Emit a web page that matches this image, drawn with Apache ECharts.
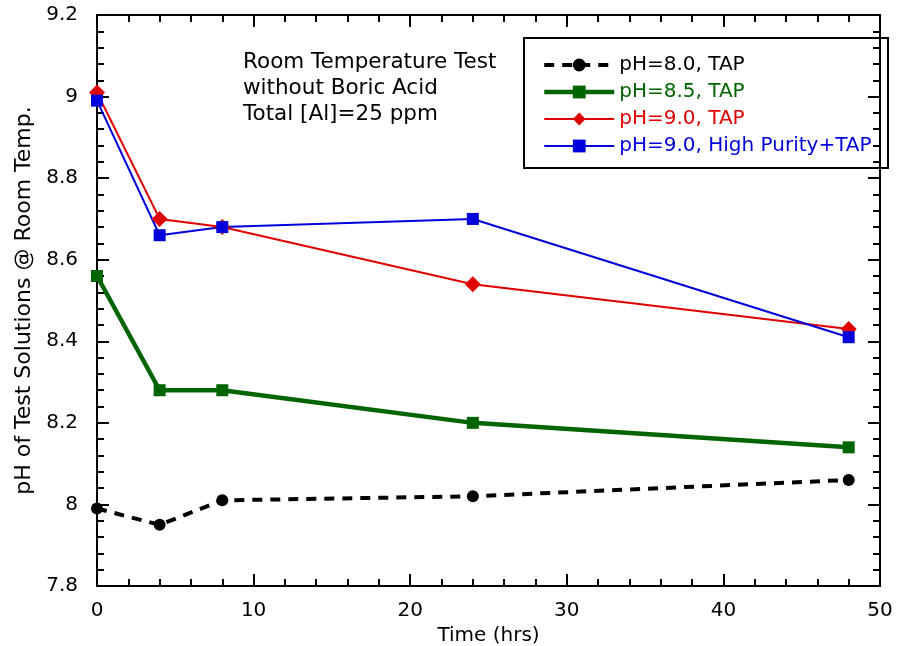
<!DOCTYPE html>
<html><head><meta charset="utf-8">
<script src="https://cdn.jsdelivr.net/npm/echarts@6/dist/echarts.min.js"></script>
<style>html,body{margin:0;padding:0;background:#fff}#c{width:897px;height:646px}</style>
</head><body><div id="c"></div>
<script>
var times = [0, 4, 8, 24, 48];
var ph80 = [7.99, 7.95, 8.01, 8.02, 8.06];
var ph85 = [8.56, 8.28, 8.28, 8.20, 8.14];
var ph90 = [9.01, 8.70, 8.68, 8.54, 8.43];
var ph90hp = [8.99, 8.66, 8.68, 8.70, 8.41];
var names = ['pH=8.0, TAP', 'pH=8.5, TAP', 'pH=9.0, TAP', 'pH=9.0, High Purity+TAP'];
var colors = ['#000000', '#006400', '#e00000', '#0000dd'];
var lineWidths = [4, 4.5, 2, 2];
var noteLines = ['Room Temperature Test', 'without Boric Acid', 'Total [Al]=25 ppm'];
var xName = 'Time (hrs)';
var yName = 'pH of Test Solutions @ Room Temp.';

function pairs(ys){ return times.map(function(t,i){ return [t, ys[i]]; }); }
var FONT = '"DejaVu Sans", sans-serif';
var FS = 20;

function xAx(pos, show){
  return {type:'value', position:pos, min:0, max:50, interval:10,
    name: show ? xName : '', nameLocation:'middle', nameGap:30,
    nameTextStyle:{fontFamily:FONT, fontSize:FS, color:'#000'},
    axisLine:{show:true, onZero:false, lineStyle:{color:'#000', width:2}},
    axisTick:{show:true, inside:true, length:12, lineStyle:{color:'#000', width:2}},
    minorTick:{show:true, splitNumber:5, length:7, lineStyle:{color:'#000', width:2}},
    axisLabel:{show:show, margin:15, fontFamily:FONT, fontSize:FS, color:'#000'},
    splitLine:{show:false}};
}
function yAx(pos, show){
  return {type:'value', position:pos, min:7.8, max:9.2, interval:0.2,
    name: show ? yName : '', nameLocation:'middle', nameGap:60,
    nameTextStyle:{fontFamily:FONT, fontSize:22, color:'#000'},
    axisLine:{show:true, onZero:false, lineStyle:{color:'#000', width:2}},
    axisTick:{show:true, inside:true, length:12, lineStyle:{color:'#000', width:2}},
    minorTick:{show:true, splitNumber:5, length:7, lineStyle:{color:'#000', width:2}},
    axisLabel:{show:show, margin:19, fontFamily:FONT, fontSize:FS, color:'#000'},
    splitLine:{show:false}};
}

var chart = echarts.init(document.getElementById('c'), null, {renderer:'canvas'});
chart.setOption({
  animation:false,
  backgroundColor:'#fff',
  grid:{left:97, right:17, top:15, bottom:60, containLabel:false, outerBoundsMode:'none'},
  xAxis:[xAx('bottom', true), xAx('top', false)],
  yAxis:[yAx('left', true), yAx('right', false)],
  legend:{
    orient:'vertical', left:537, top:50, itemWidth:70, itemHeight:16, itemGap:7,
    textStyle:{fontFamily:FONT, fontSize:FS},
    data: names.map(function(n,i){ return {name:n, textStyle:{color:colors[i]}, lineStyle:{width:lineWidths[i]}}; })
  },
  graphic:[
    {type:'rect', left:523, top:37, z:-1, shape:{width:364, height:130},
     style:{fill:'#fff', stroke:'#000', lineWidth:2}},
    {type:'text', left:243, top:49, style:{text:noteLines.join('\n'), font:'21.5px '+FONT, fill:'#000', lineHeight:26}}
  ],
  series:[
    {name:names[0], type:'line', data:pairs(ph80), color:colors[0],
     symbol:'circle', symbolSize:12, lineStyle:{width:lineWidths[0], type:[10,8], color:colors[0]}, itemStyle:{color:colors[0]}},
    {name:names[1], type:'line', data:pairs(ph85), color:colors[1],
     symbol:'rect', symbolSize:12, lineStyle:{width:lineWidths[1], color:colors[1]}, itemStyle:{color:colors[1]}},
    {name:names[2], type:'line', data:pairs(ph90), color:colors[2],
     symbol:'diamond', symbolSize:[16,16], lineStyle:{width:lineWidths[2], color:colors[2]}, itemStyle:{color:colors[2]}},
    {name:names[3], type:'line', data:pairs(ph90hp), color:colors[3],
     symbol:'rect', symbolSize:12, lineStyle:{width:lineWidths[3], color:colors[3]}, itemStyle:{color:colors[3]}}
  ]
});
</script></body></html>
